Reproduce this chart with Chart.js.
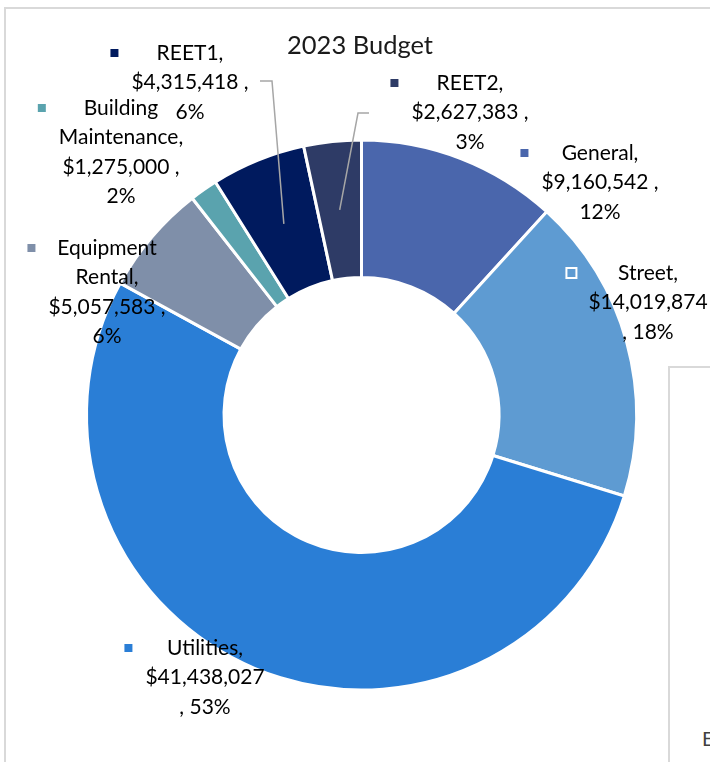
<!DOCTYPE html>
<html>
<head>
<meta charset="utf-8">
<title>2023 Budget</title>
<script src="https://cdn.jsdelivr.net/npm/chart.js@4/dist/chart.umd.min.js"></script>
<style>
    body { margin: 0; background: #fff; }
    .wrap { position: relative; width: 710px; height: 762px; overflow: hidden; }
    .frame { position: absolute; left: 4px; top: 7px; width: 720px; height: 780px;
             border-left: 2px solid #d9d9d9; border-top: 2px solid #d9d9d9; box-sizing: border-box; }
    .frame2 { position: absolute; left: 668px; top: 366px; width: 80px; height: 420px;
              border-left: 2px solid #d9d9d9; border-top: 2px solid #d9d9d9; box-sizing: border-box; }
    .cut { position: absolute; left: 702px; top: 726px; font: 20px Lato, sans-serif; color: #404040; }
    canvas { position: absolute; left: 0; top: 0; }
</style>
</head>
<body>
<div class="wrap">
    <div class="frame"></div>
    <div class="frame2"></div>
    <div class="cut">E</div>
    <canvas id="budgetChart" width="710" height="762"></canvas>
</div>
<script>
// Budget data
const categories = ['General', 'Street', 'Utilities', 'Equipment Rental', 'Building Maintenance', 'REET1', 'REET2'];
const amounts = [9160542, 14019874, 41438027, 5057583, 1275000, 4315418, 2627383];
const sliceColors = ['#4a66ac', '#5e9bd2', '#2a7ed6', '#7f8fa9', '#5aa3ae', '#001a5e', '#2e3b66'];

// where each data label sits (centre x, first line y), plus how the name wraps
const labelLayout = [
    { x: 600, y: 153, name: ['General,'] },
    { x: 648, y: 273, name: ['Street,'], commaDown: true },
    { x: 205, y: 648, name: ['Utilities,'], commaDown: true },
    { x: 107, y: 248, name: ['Equipment', 'Rental,'] },
    { x: 121, y: 108, name: ['Building', 'Maintenance,'] },
    { x: 190, y: 53, name: ['REET1,'], leader: [[260, 81], [272, 81]] },
    { x: 470, y: 83, name: ['REET2,'], leader: [[369, 113], [358, 113]] }
];

const total = amounts.reduce((a, b) => a + b, 0);

// Draws the title and the Excel-style labels with leader lines
const budgetLabels = {
    id: 'budgetLabels',
    afterDatasetsDraw(chart) {
        const ctx = chart.ctx;
        const meta = chart.getDatasetMeta(0);
        ctx.save();

        // title
        ctx.fillStyle = '#1a1a1a';
        ctx.font = '25.5px Lato, sans-serif';
        ctx.textAlign = 'center';
        ctx.textBaseline = 'middle';
        ctx.fillText('2023 Budget', 360, 46);

        // leader lines
        ctx.strokeStyle = '#a6a6a6';
        ctx.lineWidth = 1.5;
        labelLayout.forEach((lay, i) => {
            if (!lay.leader) return;
            const p = meta.data[i].getCenterPoint();
            ctx.beginPath();
            ctx.moveTo(lay.leader[0][0], lay.leader[0][1]);
            ctx.lineTo(lay.leader[1][0], lay.leader[1][1]);
            ctx.lineTo(p.x, p.y);
            ctx.stroke();
        });

        ctx.font = '21px Lato, sans-serif';
        labelLayout.forEach((lay, i) => {
            const money = '$' + amounts[i].toLocaleString('en-US');
            const pct = Math.round(amounts[i] / total * 100) + '%';
            const lines = lay.name.slice();
            if (lay.commaDown) {
                lines.push(money, ', ' + pct);
            } else {
                lines.push(money + ' ,', pct);
            }
            const w = Math.max(...lines.map(t => ctx.measureText(t).width));
            const left = lay.x - w / 2;

            // legend key
            ctx.fillStyle = sliceColors[i];
            ctx.strokeStyle = '#ffffff';
            ctx.lineWidth = 2;
            ctx.fillRect(left - 22, lay.y - 5, 10, 10);
            ctx.strokeRect(left - 22, lay.y - 5, 10, 10);

            ctx.fillStyle = '#000000';
            lines.forEach((t, k) => ctx.fillText(t, lay.x, lay.y + k * 29.5));
        });
        ctx.restore();
    }
};

new Chart(document.getElementById('budgetChart'), {
    type: 'doughnut',
    data: {
        labels: categories,
        datasets: [{
            data: amounts,
            backgroundColor: sliceColors,
            borderColor: '#ffffff',
            borderWidth: 3
        }]
    },
    options: {
        responsive: false,
        animation: false,
        devicePixelRatio: 1,
        cutout: '50%',
        layout: {
            padding: { top: 138.5, bottom: 70.5, left: 85, right: 72 }
        },
        plugins: {
            legend: { display: false },
            tooltip: { enabled: false }
        }
    },
    plugins: [budgetLabels]
});
</script>
</body>
</html>
